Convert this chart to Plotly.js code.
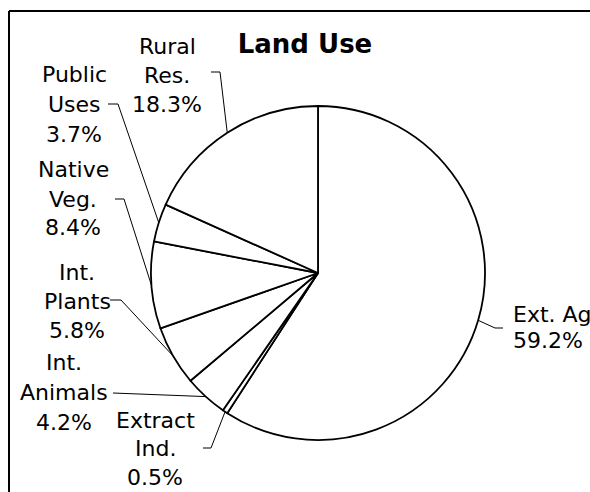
<!DOCTYPE html>
<html>
<head>
<meta charset="utf-8">
<script src="https://cdn.plot.ly/plotly-3.0.1.min.js"></script>
<style>html,body{margin:0;padding:0;background:#fff;overflow:hidden;}#chart{width:590px;height:492px;}</style>
</head>
<body>
<div id="chart"></div>
<script>
// ---- data ----
const categories = ['Ext. Ag', 'Extract Ind.', 'Int. Animals', 'Int. Plants', 'Native Veg.', 'Public Uses', 'Rural Res.'];
const values = [59.2, 0.5, 4.2, 5.8, 8.4, 3.7, 18.3];
const nameLines = [['Ext. Ag'], ['Extract', 'Ind.'], ['Int.', 'Animals'], ['Int.', 'Plants'], ['Native', 'Veg.'], ['Public', 'Uses'], ['Rural', 'Res.']];
const chartTitle = 'Land Use';

// ---- layout (pixels) ----
const W = 590, H = 492;
const cx = 318, cy = 273, R = 167;
// first-line position, line spacing, anchor
const labelPos = [
  {x: 511, y: 314, dy: 26, anchor: 'left'},
  {x: 155, y: 420, dy: 28.5, anchor: 'center'},
  {x: 64, y: 362, dy: 30, anchor: 'center'},
  {x: 77, y: 272, dy: 29, anchor: 'center'},
  {x: 73, y: 170, dy: 29, anchor: 'center'},
  {x: 74, y: 74, dy: 30, anchor: 'center'},
  {x: 167, y: 46, dy: 29.5, anchor: 'center'}
];
// leader line points on the label side (pixels)
const leaderStart = [
  [[503, 328], [495, 328]],
  [[203, 448], [211, 448]],
  [[113, 393]],
  [[110, 300], [121, 300]],
  [[115, 199], [124, 199]],
  [[108, 104], [118, 104]],
  [[211, 72], [220, 72]]
];

const px = x => x / W;
const py = y => 1 - y / H;

const total = values.reduce((a, b) => a + b, 0);
const annotations = [];
const shapes = [];
let cum = 0;
values.forEach((v, i) => {
  const mid = 2 * Math.PI * (cum + v / 2) / total;
  cum += v;
  const ex = cx + R * Math.sin(mid), ey = cy - R * Math.cos(mid);
  const lines = nameLines[i].concat([v.toFixed(1) + '%']);
  const lp = labelPos[i];
  lines.forEach((t, k) => {
    annotations.push({
      text: t, xref: 'paper', yref: 'paper',
      x: px(lp.x), y: py(lp.y + k * lp.dy),
      xanchor: lp.anchor, yanchor: 'middle', showarrow: false,
      font: {family: 'DejaVu Sans', size: 22, color: '#000'}
    });
  });
  const pts = leaderStart[i].concat([[ex, ey]]);
  const path = pts.map((p, k) => (k ? 'L' : 'M') + px(p[0]) + ',' + py(p[1])).join(' ');
  shapes.push({type: 'path', xref: 'paper', yref: 'paper', path: path, line: {color: '#000', width: 1}});
});

// chart frame (only left and top edges are inside the picture)
shapes.push({type: 'line', xref: 'paper', yref: 'paper', x0: px(9), y0: 0, x1: px(9), y1: py(11),
  line: {color: '#000', width: 2}, layer: 'below'});
shapes.push({type: 'line', xref: 'paper', yref: 'paper', x0: px(9), y0: py(11), x1: 1, y1: py(11),
  line: {color: '#000', width: 2}, layer: 'below'});

const trace = {
  type: 'pie',
  labels: categories,
  values: values,
  sort: false,
  direction: 'clockwise',
  rotation: 0,
  textinfo: 'none',
  hoverinfo: 'none',
  marker: {colors: categories.map(() => '#ffffff'), line: {color: '#000', width: 1.8}},
  domain: {x: [px(cx - R), px(cx + R)], y: [py(cy + R), py(cy - R)]},
  automargin: false
};

const layout = {
  width: W, height: H,
  margin: {l: 0, r: 0, t: 0, b: 0},
  paper_bgcolor: '#fff',
  showlegend: false,
  title: {text: '<b>' + chartTitle + '</b>', x: px(305), xanchor: 'center', y: py(44), yanchor: 'middle',
    xref: 'paper', yref: 'paper', font: {family: 'DejaVu Sans', size: 26, color: '#000'}},
  annotations: annotations,
  shapes: shapes
};

Plotly.newPlot('chart', [trace], layout, {staticPlot: true});
</script>
</body>
</html>
